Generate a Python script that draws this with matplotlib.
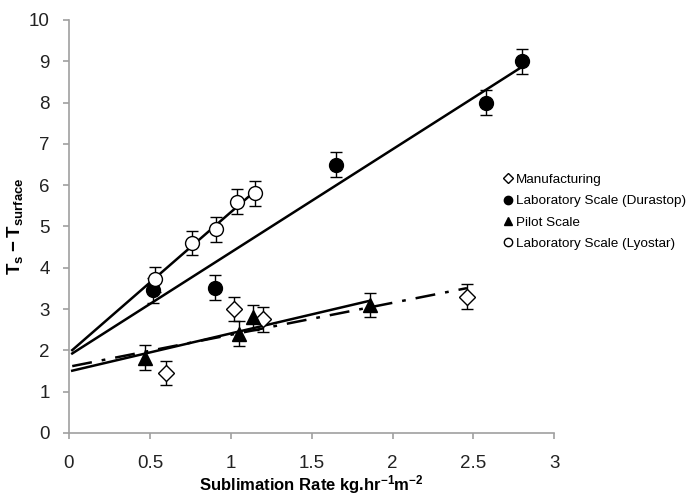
import numpy as np
import matplotlib
matplotlib.use("Agg")
import matplotlib.pyplot as plt
from matplotlib.lines import Line2D

plt.rcParams['font.family'] = ['Liberation Sans', 'DejaVu Sans']
plt.rcParams['mathtext.fontset'] = 'custom'
plt.rcParams['mathtext.rm'] = 'Liberation Sans'
plt.rcParams['mathtext.bf'] = 'Liberation Sans:bold'

# --- data ---
manuf_x = [0.60, 1.02, 1.20, 2.46]
manuf_y = [1.45, 3.00, 2.75, 3.30]

dura_x = [0.52, 0.90, 1.65, 2.58, 2.80]
dura_y = [3.45, 3.52, 6.50, 8.00, 9.00]

pilot_x = [0.47, 1.05, 1.14, 1.86]
pilot_y = [1.82, 2.40, 2.80, 3.10]

lyo_x = [0.53, 0.76, 0.91, 1.04, 1.15]
lyo_y = [3.72, 4.60, 4.93, 5.60, 5.80]

err = 0.3

fig = plt.figure(figsize=(6.92, 4.95), dpi=100)
ax = fig.add_axes([0.0997, 0.1253, 0.7013, 0.8343])

grey = '#a0a0a0'


def trend(xs, ys, ls):
    # linear trendline, drawn from near zero to last point
    k, b = np.polyfit(xs, ys, 1)
    xx = np.array([0.02, max(xs)])
    ax.plot(xx, k * xx + b, color='black', lw=1.8, ls=ls, zorder=2)


trend(lyo_x, lyo_y, '-')
trend(dura_x, dura_y, '-')
trend(pilot_x, pilot_y, '-')
trend(manuf_x, manuf_y, (0, (8, 4, 1.5, 4)))

eb = dict(ecolor='black', elinewidth=1.0, capsize=4, capthick=1.0, ls='none', zorder=3)
ax.errorbar(manuf_x, manuf_y, yerr=err, marker='D', ms=8, mfc='white', mec='black',
            mew=1.0, **eb)
ax.errorbar(dura_x, dura_y, yerr=err, marker='o', ms=10, mfc='black', mec='black', **eb)
ax.errorbar(pilot_x, pilot_y, yerr=err, marker='^', ms=10, mfc='black', mec='black', **eb)
ax.errorbar(lyo_x, lyo_y, yerr=err, marker='o', ms=10, mfc='white', mec='black',
            mew=1.0, **eb)

ax.set_xlim(0, 3)
ax.set_ylim(0, 10)
ax.set_xticks([0, 0.5, 1, 1.5, 2, 2.5, 3])
ax.set_xticklabels(['0', '0.5', '1', '1.5', '2', '2.5', '3'])
ax.set_yticks(range(0, 11))

for s in ['top', 'right']:
    ax.spines[s].set_visible(False)
for s in ['left', 'bottom']:
    ax.spines[s].set_color(grey)
    ax.spines[s].set_linewidth(1.2)
ax.tick_params(direction='out', length=4, width=1.2, color=grey, labelsize=13.5,
               labelcolor='#222222')
ax.tick_params(axis='x', pad=12)
ax.tick_params(axis='y', pad=10)

ax.set_xlabel(r'Sublimation Rate kg.hr$\mathbf{^{-1}}$m$\mathbf{^{-2}}$',
              fontsize=12, fontweight='bold', labelpad=1)
ax.set_ylabel(r'$\mathbf{T_s - T_{surface}}$', fontsize=13.5, labelpad=3)

handles = [
    Line2D([], [], ls='none', marker='D', ms=5, mfc='white', mec='black'),
    Line2D([], [], ls='none', marker='o', ms=6, mfc='black', mec='black'),
    Line2D([], [], ls='none', marker='^', ms=6, mfc='black', mec='black'),
    Line2D([], [], ls='none', marker='o', ms=6, mfc='white', mec='black'),
]
labels = ['Manufacturing', 'Laboratory Scale (Durastop)', 'Pilot Scale',
          'Laboratory Scale (Lyostar)']
fig.legend(handles, labels, loc='upper left', bbox_to_anchor=(0.72, 0.66),
           frameon=False, fontsize=9.7, handlelength=0.6, handletextpad=0.3,
           labelspacing=0.66, borderaxespad=0)

fig.savefig('out.png', dpi=100)
